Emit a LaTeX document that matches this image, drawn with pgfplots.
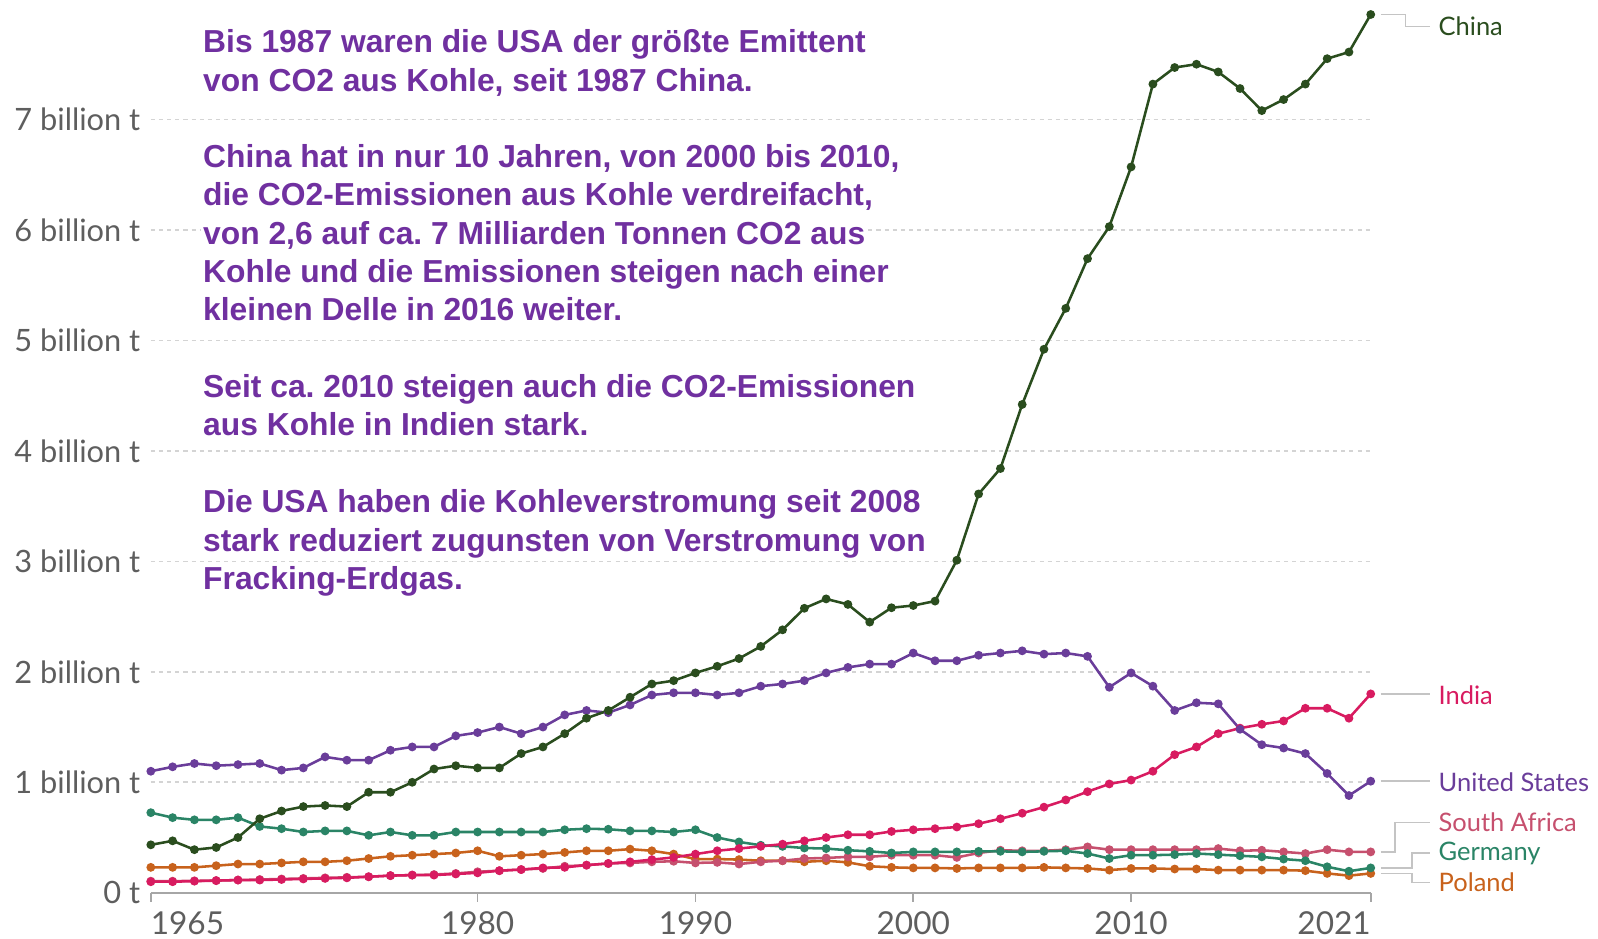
\documentclass[border=0pt]{standalone}
\usepackage{pgfplots}
\pgfplotsset{compat=1.18}
\usepackage{pgfplotstable}
\usepackage{fontspec}
\setmainfont{Lato}
\newfontfamily\annfont{Liberation Sans}
\definecolor{cChina}{HTML}{2A4D1E}
\definecolor{cUS}{HTML}{6A3D9A}
\definecolor{cIndia}{HTML}{D81B60}
\definecolor{cSA}{HTML}{C6506E}
\definecolor{cGer}{HTML}{2A8466}
\definecolor{cPol}{HTML}{C8621C}
\definecolor{annpurple}{HTML}{7030A0}
\definecolor{txtgray}{HTML}{5E5E5E}
\definecolor{gridgray}{HTML}{D4D4D4}
\definecolor{conn}{HTML}{C4C4C4}

\pgfplotstableread{
year v
1965 0.434
1966 0.47
1967 0.39
1968 0.41
1969 0.50
1970 0.67
1971 0.74
1972 0.78
1973 0.79
1974 0.78
1975 0.91
1976 0.91
1977 1.00
1978 1.12
1979 1.15
1980 1.13
1981 1.13
1982 1.26
1983 1.32
1984 1.44
1985 1.58
1986 1.65
1987 1.77
1988 1.89
1989 1.92
1990 1.99
1991 2.05
1992 2.12
1993 2.23
1994 2.38
1995 2.575
1996 2.66
1997 2.61
1998 2.45
1999 2.58
2000 2.60
2001 2.64
2002 3.01
2003 3.61
2004 3.84
2005 4.42
2006 4.92
2007 5.29
2008 5.74
2009 6.03
2010 6.57
2011 7.32
2012 7.47
2013 7.50
2014 7.43
2015 7.28
2016 7.08
2017 7.18
2018 7.32
2019 7.55
2020 7.61
2021 7.95
}\china

\pgfplotstableread{
year v
1965 1.10
1966 1.14
1967 1.17
1968 1.15
1969 1.16
1970 1.17
1971 1.11
1972 1.13
1973 1.23
1974 1.20
1975 1.20
1976 1.29
1977 1.32
1978 1.32
1979 1.42
1980 1.45
1981 1.50
1982 1.44
1983 1.50
1984 1.61
1985 1.65
1986 1.63
1987 1.70
1988 1.79
1989 1.81
1990 1.81
1991 1.79
1992 1.81
1993 1.87
1994 1.89
1995 1.92
1996 1.99
1997 2.04
1998 2.07
1999 2.07
2000 2.17
2001 2.10
2002 2.10
2003 2.15
2004 2.17
2005 2.19
2006 2.16
2007 2.17
2008 2.14
2009 1.86
2010 1.99
2011 1.87
2012 1.65
2013 1.72
2014 1.71
2015 1.48
2016 1.34
2017 1.31
2018 1.26
2019 1.08
2020 0.88
2021 1.01
}\us

\pgfplotstableread{
year v
1965 0.10
1966 0.10
1967 0.105
1968 0.11
1969 0.115
1970 0.115
1971 0.12
1972 0.125
1973 0.13
1974 0.135
1975 0.145
1976 0.155
1977 0.16
1978 0.16
1979 0.17
1980 0.18
1981 0.20
1982 0.21
1983 0.225
1984 0.23
1985 0.25
1986 0.265
1987 0.28
1988 0.30
1989 0.32
1990 0.35
1991 0.38
1992 0.40
1993 0.42
1994 0.44
1995 0.47
1996 0.50
1997 0.525
1998 0.525
1999 0.555
2000 0.57
2001 0.58
2002 0.595
2003 0.625
2004 0.67
2005 0.72
2006 0.775
2007 0.84
2008 0.915
2009 0.985
2010 1.02
2011 1.10
2012 1.25
2013 1.32
2014 1.44
2015 1.49
2016 1.525
2017 1.555
2018 1.67
2019 1.67
2020 1.58
2021 1.80
}\india

\pgfplotstableread{
year v
1965 0.105
1966 0.105
1967 0.108
1968 0.11
1969 0.115
1970 0.12
1971 0.125
1972 0.13
1973 0.135
1974 0.14
1975 0.145
1976 0.155
1977 0.16
1978 0.165
1979 0.175
1980 0.19
1981 0.20
1982 0.21
1983 0.22
1984 0.24
1985 0.25
1986 0.265
1987 0.27
1988 0.28
1989 0.285
1990 0.27
1991 0.275
1992 0.26
1993 0.28
1994 0.29
1995 0.31
1996 0.315
1997 0.325
1998 0.325
1999 0.34
2000 0.34
2001 0.34
2002 0.32
2003 0.36
2004 0.385
2005 0.38
2006 0.38
2007 0.39
2008 0.415
2009 0.39
2010 0.39
2011 0.39
2012 0.39
2013 0.39
2014 0.40
2015 0.38
2016 0.385
2017 0.37
2018 0.355
2019 0.39
2020 0.37
2021 0.37
}\safrica

\pgfplotstableread{
year v
1965 0.725
1966 0.68
1967 0.66
1968 0.66
1969 0.68
1970 0.60
1971 0.58
1972 0.55
1973 0.56
1974 0.56
1975 0.52
1976 0.55
1977 0.52
1978 0.52
1979 0.55
1980 0.55
1981 0.55
1982 0.55
1983 0.55
1984 0.57
1985 0.58
1986 0.575
1987 0.56
1988 0.56
1989 0.55
1990 0.57
1991 0.50
1992 0.46
1993 0.43
1994 0.42
1995 0.405
1996 0.40
1997 0.385
1998 0.375
1999 0.36
2000 0.37
2001 0.37
2002 0.37
2003 0.375
2004 0.375
2005 0.37
2006 0.375
2007 0.38
2008 0.355
2009 0.31
2010 0.34
2011 0.34
2012 0.345
2013 0.355
2014 0.345
2015 0.335
2016 0.325
2017 0.305
2018 0.29
2019 0.235
2020 0.195
2021 0.225
}\germany

\pgfplotstableread{
year v
1965 0.23
1966 0.23
1967 0.23
1968 0.245
1969 0.26
1970 0.26
1971 0.27
1972 0.28
1973 0.28
1974 0.29
1975 0.31
1976 0.33
1977 0.34
1978 0.35
1979 0.36
1980 0.38
1981 0.33
1982 0.34
1983 0.35
1984 0.365
1985 0.38
1986 0.38
1987 0.395
1988 0.38
1989 0.35
1990 0.305
1991 0.305
1992 0.30
1993 0.29
1994 0.29
1995 0.28
1996 0.29
1997 0.275
1998 0.24
1999 0.23
2000 0.225
2001 0.225
2002 0.22
2003 0.225
2004 0.225
2005 0.225
2006 0.23
2007 0.225
2008 0.22
2009 0.205
2010 0.22
2011 0.22
2012 0.215
2013 0.215
2014 0.205
2015 0.205
2016 0.205
2017 0.205
2018 0.20
2019 0.175
2020 0.155
2021 0.175
}\poland

\newcommand\xtickfont{\fontsize{15.5}{17}\selectfont}
\newcommand\ytickfont{\fontsize{15.1}{17}\selectfont}
\newcommand\lblfont{\fontsize{12.5}{14}\selectfont}
\tikzset{ann/.style={anchor=base west, fill=white, inner xsep=1pt, inner ysep=1.5pt, text=annpurple, font=\annfont\bfseries\fontsize{15.6}{18}\selectfont}}
\frenchspacing

\begin{document}
\begin{tikzpicture}
\useasboundingbox (0,0) rectangle (784pt,460.5pt);
\begin{axis}[
  at={(74pt,22.5pt)}, anchor=south west,
  scale only axis, width=598.5pt, height=433.6pt,
  xmin=1965, xmax=2021, ymin=0, ymax=8,
  clip=false,
  axis x line*=bottom, axis y line*=left,
  y axis line style={draw=none},
  x axis line style={draw=gray!70, line width=0.8pt},
  xtick={1965,1980,1990,2000,2010,2021},
  xticklabels={\makebox[0pt][l]{1965},1980,1990,2000,2010,\makebox[0pt][r]{2021}},
  ytick={0,1,2,3,4,5,6,7},
  yticklabels={0 t,1 billion t,2 billion t,3 billion t,4 billion t,5 billion t,6 billion t,7 billion t},
  tick align=outside,
  major tick length=4.5pt,
  xtick style={draw=gray!70, line width=0.8pt},
  ytick style={draw=none},
  ymajorgrids,
  major grid style={draw=gridgray, line width=0.8pt, dash pattern=on 2pt off 2pt},
  xticklabel style={font=\xtickfont, text=txtgray, inner sep=0pt, yshift=-4.5pt},
  yticklabel style={font=\ytickfont, text=txtgray, inner sep=0pt, xshift=-0.5pt},
  every axis plot/.append style={line width=1.25pt, mark=*, mark size=1.5pt},
]
\addplot[cPol, mark options={fill=cPol}] table[x=year,y=v]{\poland};
\addplot[cSA, mark options={fill=cSA}] table[x=year,y=v]{\safrica};
\addplot[cGer, mark options={fill=cGer}] table[x=year,y=v]{\germany};
\addplot[cIndia, mark options={fill=cIndia}] table[x=year,y=v]{\india};
\addplot[cUS, mark options={fill=cUS}] table[x=year,y=v]{\us};
\addplot[cChina, mark options={fill=cChina}] table[x=year,y=v]{\china};

\draw[conn, line width=0.8pt] (axis cs:2021.47,7.95) -- (axis cs:2022.59,7.95) -- (axis cs:2022.59,7.84) -- (axis cs:2023.7,7.84);
\node[anchor=west, inner sep=0pt, text=cChina, font=\lblfont] at (axis cs:2024.1,7.84) {China};
\draw[conn, line width=0.8pt] (axis cs:2021.47,1.80) -- (axis cs:2023.7,1.80);
\node[anchor=west, inner sep=0pt, text=cIndia, font=\lblfont] at (axis cs:2024.1,1.79) {India};
\draw[conn, line width=0.8pt] (axis cs:2021.47,1.01) -- (axis cs:2023.7,1.01);
\node[anchor=west, inner sep=0pt, text=cUS, font=\lblfont] at (axis cs:2024.1,1.0) {United States};
\draw[conn, line width=0.8pt] (axis cs:2021.47,0.37) -- (axis cs:2022.1,0.37) -- (axis cs:2022.1,0.637) -- (axis cs:2023.7,0.637);
\node[anchor=west, inner sep=0pt, text=cSA, font=\lblfont] at (axis cs:2024.1,0.637) {South Africa};
\draw[conn, line width=0.8pt] (axis cs:2021.47,0.225) -- (axis cs:2022.9,0.225) -- (axis cs:2022.9,0.36) -- (axis cs:2023.7,0.36);
\node[anchor=west, inner sep=0pt, text=cGer, font=\lblfont] at (axis cs:2024.1,0.36) {Germany};
\draw[conn, line width=0.8pt] (axis cs:2021.47,0.175) -- (axis cs:2022.9,0.175) -- (axis cs:2022.9,0.092) -- (axis cs:2023.7,0.092);
\node[anchor=west, inner sep=0pt, text=cPol, font=\lblfont] at (axis cs:2024.1,0.092) {Poland};
\end{axis}

\node[ann] at (98.5pt,434.5pt) {Bis 1987 waren die USA der größte Emittent};
\node[ann] at (98.5pt,415.75pt) {von CO2 aus Kohle, seit 1987 China.};
\node[ann] at (98.5pt,378.25pt) {China hat in nur 10 Jahren, von 2000 bis 2010,};
\node[ann] at (98.5pt,359.5pt) {die CO2-Emissionen aus Kohle verdreifacht,};
\node[ann] at (98.5pt,340.5pt) {von 2,6 auf ca. 7 Milliarden Tonnen CO2 aus};
\node[ann] at (98.5pt,322pt) {Kohle und die Emissionen steigen nach einer};
\node[ann] at (98.5pt,303.25pt) {kleinen Delle in 2016 weiter.};
\node[ann] at (98.5pt,265.5pt) {Seit ca. 2010 steigen auch die CO2-Emissionen};
\node[ann] at (98.5pt,246.75pt) {aus Kohle in Indien stark.};
\node[ann] at (98.5pt,209pt) {Die USA haben die Kohleverstromung seit 2008};
\node[ann] at (98.5pt,190pt) {stark reduziert zugunsten von Verstromung von};
\node[ann] at (98.5pt,171.5pt) {Fracking-Erdgas.};
\end{tikzpicture}
\end{document}
